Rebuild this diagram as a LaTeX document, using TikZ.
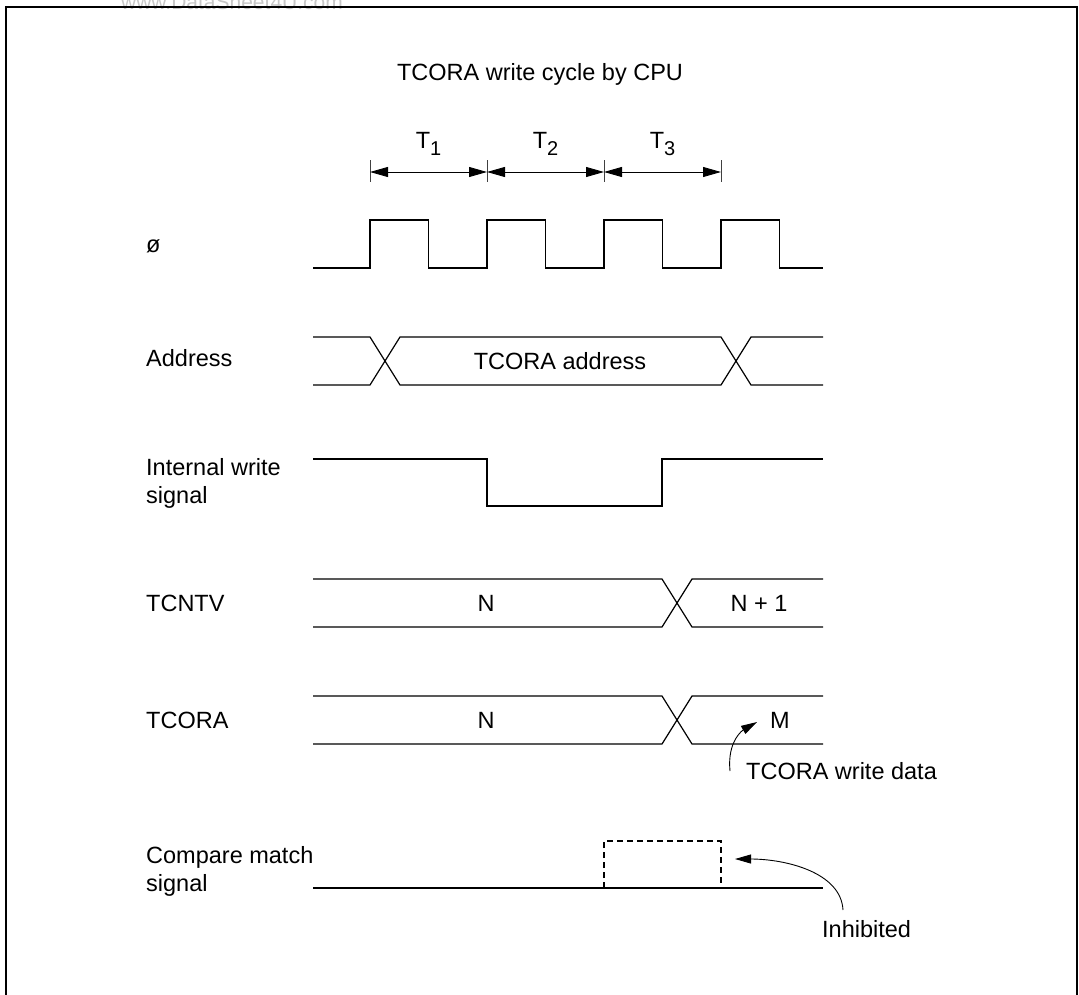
\documentclass[tikz,border=0pt]{standalone}
\usepackage{fontspec}
\setmainfont{Liberation Sans}
\usetikzlibrary{positioning, calc, arrows.meta}

\tikzset{
  sig/.style={line width=1.2pt},
  lbl/.style={anchor=base west, inner sep=0pt, align=left},
  val/.style={anchor=base, inner sep=0pt},
  dimline/.style={line width=0.9pt, {Triangle[length=18pt,width=10pt]}-{Triangle[length=18pt,width=10pt]}},
  annot/.style={line width=0.9pt, -{Triangle[length=16pt,width=9pt]}}
}
\newcommand{\Tsub}[1]{T\raisebox{-7pt}{\fontsize{20}{20}\selectfont #1}}

\begin{document}
\begin{tikzpicture}[x=1pt,y=-1pt,font=\fontsize{23.5}{28}\selectfont]
        \useasboundingbox (0,0) rectangle (1079,994);

        % Frame and watermark
        \node[anchor=base, inner sep=0pt, text=black!22, font=\fontsize{21}{21}\selectfont] (mark) at (232,9) {www.DataSheet4U.com};
        \draw[line width=2pt] (6,1010) -- (6,7) -- (1077,7) -- (1077,1010);

        % Title and cycle marks
        \node[val] (title) at (540,80) {TCORA write cycle by CPU};
        \foreach \x [count=\i from 0] in {370,487,604,721} {
            \draw[line width=0.9pt, black!75] (\x,160) -- (\x,182);
            \coordinate (t\i) at (\x,172);
        }
        \foreach \a/\b [count=\i] in {0/1,1/2,2/3} {
            \draw[dimline] (t\a) -- (t\b);
            \node[val] (T\i) at ($(t\a)!0.5!(t\b)+(0,-24)$) {\Tsub{\i}};
        }

        % Signal names (base = last line)
        \node[lbl] (phi) at (146,252) {ø};
        \node[lbl] (addr) at (146,366) {Address};
        \node[lbl] (wr) at (146,503) {Internal write\\signal};
        \node[lbl] (cnt) at (146,611) {TCNTV};
        \node[lbl] (cora) at (146,728) {TCORA};
        \node[lbl] (cmp) at (146,891) {Compare match\\signal};

        % Clock
        \draw[sig] (313,268) foreach \r in {370,487,604,721} {
            -- (\r,268) -- (\r,220) -- (\r+58.5,220) -- (\r+58.5,268)
        } -- (823,268);

        % Address bus
        \draw[sig] (313,337) -- (370,337) -- (400,385) -- (721,385) -- (751,337) -- (823,337);
        \draw[sig] (313,385) -- (370,385) -- (400,337) -- (721,337) -- (751,385) -- (823,385);
        \node[val] (aval) at (560,369) {TCORA address};

        % Internal write signal
        \draw[sig] (313,459) -- (487,459) -- (487,506) -- (662,506) -- (662,459) -- (823,459);

        % TCNTV
        \draw[sig] (313,579) -- (662,579) -- (692,627) -- (823,627);
        \draw[sig] (313,627) -- (662,627) -- (692,579) -- (823,579);
        \node[val] (cntn) at (486,611) {N};
        \node[val] (cntn1) at (759,611) {N + 1};

        % TCORA
        \draw[sig] (313,696) -- (662,696) -- (692,744) -- (823,744);
        \draw[sig] (313,744) -- (662,744) -- (692,696) -- (823,696);
        \node[val] (coran) at (486,728) {N};
        \node[val] (coram) at (780,728) {M};
        \coordinate (mtip) at (757,722);
        \node[lbl] (wdata) at (746,779) {TCORA write data};
        \draw[annot] ([xshift=-16pt,yshift=8pt]wdata.base west) .. controls +(-3,-30) and +(-14,8) .. (mtip);

        % Compare match signal
        \draw[sig] (313,888) -- (823,888);
        \draw[sig, dash pattern=on 6pt off 4pt] (604,888) -- (604,841) -- (721,841) -- (721,888);
        \coordinate (itip) at (735,859);
        \node[lbl] (inhib) at (822,937) {Inhibited};
        \draw[annot] ([xshift=21pt,yshift=27pt]inhib.base west) .. controls +(-2,-38) and +(50,0) .. (itip);
    \end{tikzpicture}
\end{document}
